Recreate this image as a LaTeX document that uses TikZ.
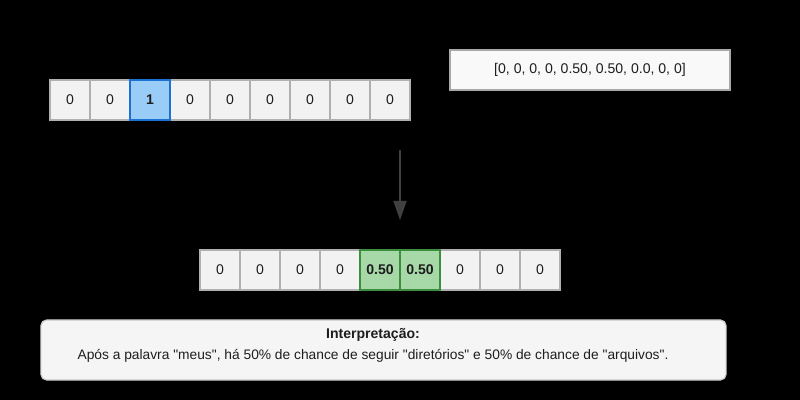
\documentclass[tikz,border=0pt]{standalone}
\usepackage{fontspec}
\setmainfont{Liberation Sans}[Ligatures=TeXOff]
\usetikzlibrary{arrows.meta}
\definecolor{cellfill}{HTML}{F2F2F2}
\definecolor{cellline}{HTML}{B0B0B0}
\definecolor{bluefill}{HTML}{99CCF7}
\definecolor{blueline}{HTML}{1C72D4}
\definecolor{greenfill}{HTML}{A6D8A8}
\definecolor{greenline}{HTML}{3A8E3E}
\definecolor{boxfill}{HTML}{F9F9F9}
\definecolor{boxline}{HTML}{A8A8A8}
\definecolor{notefill}{HTML}{F5F5F5}
\definecolor{noteline}{HTML}{C8C8C8}
\definecolor{arrowcol}{HTML}{404040}
\definecolor{txt}{HTML}{1E1E1E}
\begin{document}
\begin{tikzpicture}[x=0.025cm,y=-0.025cm,
	font=\fontsize{10}{12}\selectfont, text=txt,
	cell/.style={draw=cellline,fill=cellfill,line width=0.8pt,minimum width=1cm,minimum height=1cm,inner sep=0pt},
	hotblue/.style={cell,draw=blueline,fill=bluefill,line width=1.3pt,font=\fontsize{10}{12}\selectfont\bfseries},
	hotgreen/.style={cell,draw=greenline,fill=greenfill,line width=1.3pt,font=\fontsize{10}{12}\selectfont\bfseries}]
		\fill[black] (0,0) rectangle (800,400);
		% one-hot input row
		\foreach \v [count=\i from 0] in {0,0,1,0,0,0,0,0,0}
			\node[cell] (in\i) at (70+40*\i,100) {\v};
		\node[hotblue] (in2) at (150,100) {1};
		% resulting vector
		\node[draw=boxline,fill=boxfill,line width=0.8pt,minimum width=7cm,minimum height=1cm] (vec) at (590,70) {[0, 0, 0, 0, 0.50, 0.50, 0.0, 0, 0]};
		% arrow
		\coordinate (from) at (400,150);
		\coordinate (to) at (400,220);
		\draw[arrowcol,line width=1pt,-{Triangle[width=0.33cm,length=0.48cm]}] (from) -- (to);
		% output row
		\foreach \v [count=\i from 0] in {0,0,0,0,0.50,0.50,0,0,0}
			\node[cell] (out\i) at (220+40*\i,270) {\v};
		\node[hotgreen] (out4) at (380,270) {0.50};
		\node[hotgreen] (out5) at (420,270) {0.50};
		% interpretation
		\node[draw=noteline,fill=notefill,line width=0.8pt,rounded corners=4pt,minimum width=17.125cm,minimum height=1.5cm] (note) at (383.5,350) {};
		\node[font=\fontsize{10}{12}\selectfont\bfseries] (notetitle) at (373,335) {Interpretação:};
		\node[font=\fontsize{9.8}{12}\selectfont] (notetext) at (373,356) {Após a palavra "meus", há 50\% de chance de seguir "diretórios" e 50\% de chance de "arquivos".};
\end{tikzpicture}
\end{document}
